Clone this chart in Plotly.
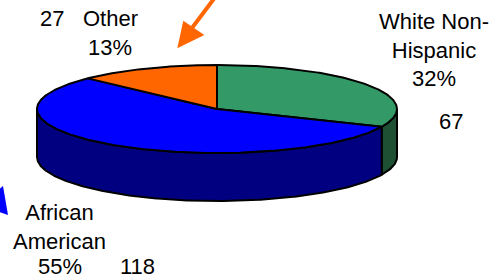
import numpy as np
import plotly.graph_objects as go

# ---- data ----
categories = ["White Non-Hispanic", "African American", "Other"]
values = [67, 118, 27]
pct_labels = ["32%", "55%", "13%"]
label_names = ["White Non-<br>Hispanic", "African<br>American", "Other"]

# ---- styles ----
top_colors = ["#339966", "#0000FF", "#FF6600"]
side_colors = ["#1E5034", "#000080", "#803300"]
FONT = dict(family="Liberation Sans, Arial, sans-serif", size=22, color="black")

W, H = 502, 278
cx, cy, rx, ry, depth = 217, 109, 180, 44, 48


def pt(theta_deg, dy=0.0):
    t = np.radians(theta_deg)
    return cx + rx * np.sin(t), cy - ry * np.cos(t) + dy


def arc(a, b, dy=0.0):
    n = max(4, int(abs(b - a) * 2))
    th = np.linspace(a, b, n)
    xs, ys = pt(th, dy)
    return list(xs), list(ys)


total = float(sum(values))
bounds = np.concatenate([[0], np.cumsum(values) / total * 360.0])

fig = go.Figure()

# side walls (front half only: 90..270 deg)
for i in range(len(values)):
    a, b = max(bounds[i], 90.0), min(bounds[i + 1], 270.0)
    if a < b:
        x1, y1 = arc(a, b)
        x2, y2 = arc(b, a, depth)
        fig.add_trace(go.Scatter(
            x=x1 + x2 + [x1[0]], y=y1 + y2 + [y1[0]], mode="lines",
            fill="toself", fillcolor=side_colors[i],
            line=dict(color="black", width=2), hoverinfo="skip",
            showlegend=False))

# top faces
for i in range(len(values)):
    xs, ys = arc(bounds[i], bounds[i + 1])
    fig.add_trace(go.Scatter(
        x=[cx] + xs + [cx], y=[cy] + ys + [cy], mode="lines",
        fill="toself", fillcolor=top_colors[i],
        line=dict(color="black", width=2), hoverinfo="skip",
        name=categories[i], showlegend=False))

# labels
ann = [
    (434, 50, label_names[0] + "<br>" + pct_labels[0]),
    (451, 121, str(values[0])),
    (59, 226.5, label_names[1]),
    (59.5, 266.5, pct_labels[1]),
    (137, 266.5, str(values[1])),
    (110, 18, label_names[2]),
    (52, 18, str(values[2])),
    (110, 47, pct_labels[2]),
]
for x, y, t in ann:
    fig.add_annotation(x=x, y=y, xref="x", yref="y", text=t, showarrow=False,
                       xanchor="center", yanchor="middle", font=FONT)

# callout arrows
fig.add_shape(type="line", x0=216, y0=-4, x1=192, y1=28, xref="x", yref="y",
              line=dict(color="#FF6600", width=4))
fig.add_shape(type="path", path="M 177.3 48.3 L 183.3 20.7 L 204.3 35 Z",
              xref="x", yref="y", fillcolor="#FF6600", line=dict(width=0))
fig.add_shape(type="path", path="M 3 186 L 8 215 L -20 205 Z",
              xref="x", yref="y", fillcolor="#0000FF", line=dict(width=0))

fig.update_layout(
    width=W, height=H, autosize=False,
    margin=dict(l=0, r=0, t=0, b=0),
    paper_bgcolor="white", plot_bgcolor="white",
    xaxis=dict(range=[0, W], visible=False, fixedrange=True),
    yaxis=dict(range=[H, 0], visible=False, fixedrange=True),
)

fig.write_html(
    "out.html",
    config={"displayModeBar": False},
    post_script="document.body.style.margin='0';document.body.style.overflow='hidden';",
)
